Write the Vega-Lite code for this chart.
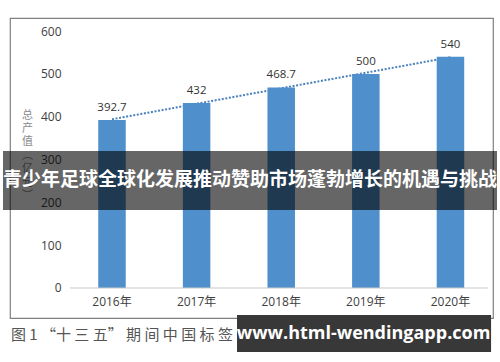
{
  "$schema": "https://vega.github.io/schema/vega-lite/v6.json",
  "width": 483,
  "height": 300,
  "autosize": {"type": "none"},
  "padding": {"left": 10, "top": 18, "right": 7, "bottom": 44},
  "background": "white",
  "config": {
    "view": {"stroke": "#808080", "strokeWidth": 1.2},
    "font": "Open Sans, Noto Sans CJK SC"
  },
  "layer": [
    {
      "data": {
        "values": [
          {"year": 2016, "value": 392.7},
          {"year": 2017, "value": 432},
          {"year": 2018, "value": 468.7},
          {"year": 2019, "value": 500},
          {"year": 2020, "value": 540}
        ]
      },
      "encoding": {
        "x": {
          "field": "year",
          "type": "ordinal",
          "scale": {"paddingInner": 0.675, "paddingOuter": 0.6915, "align": 0.754},
          "axis": {
            "title": null,
            "labelExpr": "datum.value + '年'",
            "labelAngle": 0,
            "offset": -30,
            "domain": false,
            "ticks": false,
            "tickSize": 0,
            "labelPadding": 8,
            "labelFontSize": 12,
            "labelColor": "#404040",
            "labelFont": "Open Sans, Noto Sans CJK SC"
          }
        },
        "y": {
          "field": "value",
          "type": "quantitative",
          "scale": {"domain": [-70.1, 630.8], "nice": false, "zero": false},
          "axis": {
            "values": [0, 100, 200, 300, 400, 500, 600],
            "offset": -51,
            "domain": false,
            "ticks": false,
            "tickSize": 0,
            "grid": false,
            "labelPadding": 0,
            "labelFontSize": 12,
            "labelColor": "#404040",
            "labelFont": "Open Sans",
            "title": ["总", "产", "值", "︵", "亿", "元", "︶"],
            "titleAngle": 0,
            "titleX": -34,
            "titleY": 91,
            "titleAlign": "center",
            "titleBaseline": "top",
            "titleFontSize": 11,
            "titleFontWeight": "normal",
            "titleLineHeight": 13.4,
            "titleColor": "#8a8a8a",
            "titleFont": "Noto Sans CJK SC"
          }
        }
      },
      "layer": [
        {
          "transform": [{"regression": "value", "on": "year"}],
          "mark": {"type": "line", "color": "#4a80bb", "strokeWidth": 2, "strokeDash": [2, 1.6]}
        },
        {
          "mark": {"type": "bar", "color": "#4f8fcb"}
        },
        {
          "mark": {"type": "text", "baseline": "alphabetic", "dy": -9, "fontSize": 11.5, "color": "#333333", "font": "Open Sans"},
          "encoding": {"text": {"field": "value", "type": "quantitative"}}
        }
      ]
    },
    {
      "data": {"values": [{}]},
      "encoding": {
        "x": {"datum": 0, "type": "quantitative", "scale": {"domain": [0, 100], "nice": false, "zero": false}, "axis": null},
        "y": {"datum": 0, "type": "quantitative", "scale": {"domain": [-70.1, 630.8], "nice": false, "zero": false}, "axis": null}
      },
      "layer": [
        {
          "mark": {"type": "rule", "color": "#c8c8c8", "strokeWidth": 1},
          "encoding": {
            "x": {"datum": 12.42, "type": "quantitative"},
            "x2": {"datum": 98.96},
            "y": {"datum": 0, "type": "quantitative"}
          }
        },
        {
          "mark": {"type": "rect", "color": "#000000", "opacity": 0.6},
          "encoding": {
            "x": {"datum": -1.45, "type": "quantitative"},
            "x2": {"datum": 100.83},
            "y": {"datum": 320.1, "type": "quantitative"},
            "y2": {"datum": 182.2}
          }
        },
        {
          "mark": {"type": "text", "color": "white", "fontSize": 19, "fontWeight": "bold", "font": "Noto Sans CJK SC", "align": "center", "baseline": "middle"},
          "encoding": {
            "x": {"datum": 49.7, "type": "quantitative"},
            "y": {"datum": 252.3, "type": "quantitative"},
            "text": {"value": "青少年足球全球化发展推动赞助市场蓬勃增长的机遇与挑战"}
          }
        },
        {
          "mark": {"type": "text", "color": "#555555", "fontSize": 15, "font": "Noto Sans CJK SC", "align": "left", "baseline": "middle"},
          "encoding": {
            "x": {"datum": 0.2, "type": "quantitative"},
            "y": {"datum": -109.8, "type": "quantitative"},
            "text": {"value": "图 1   “十 三 五” 期 间 中 国 标 签"}
          }
        },
        {
          "mark": {"type": "rect", "color": "#383838"},
          "encoding": {
            "x": {"datum": 47.0, "type": "quantitative"},
            "x2": {"datum": 99.6},
            "y": {"datum": -63.1, "type": "quantitative"},
            "y2": {"datum": -149.5}
          }
        },
        {
          "mark": {"type": "text", "color": "white", "fontSize": 18, "fontWeight": "bold", "font": "Open Sans", "align": "center", "baseline": "middle"},
          "encoding": {
            "x": {"datum": 73.2, "type": "quantitative"},
            "y": {"datum": -107.5, "type": "quantitative"},
            "text": {"value": "www.html-wendingapp.com"}
          }
        }
      ]
    }
  ],
  "resolve": {"scale": {"x": "independent", "y": "independent"}, "axis": {"y": "independent"}}
}
